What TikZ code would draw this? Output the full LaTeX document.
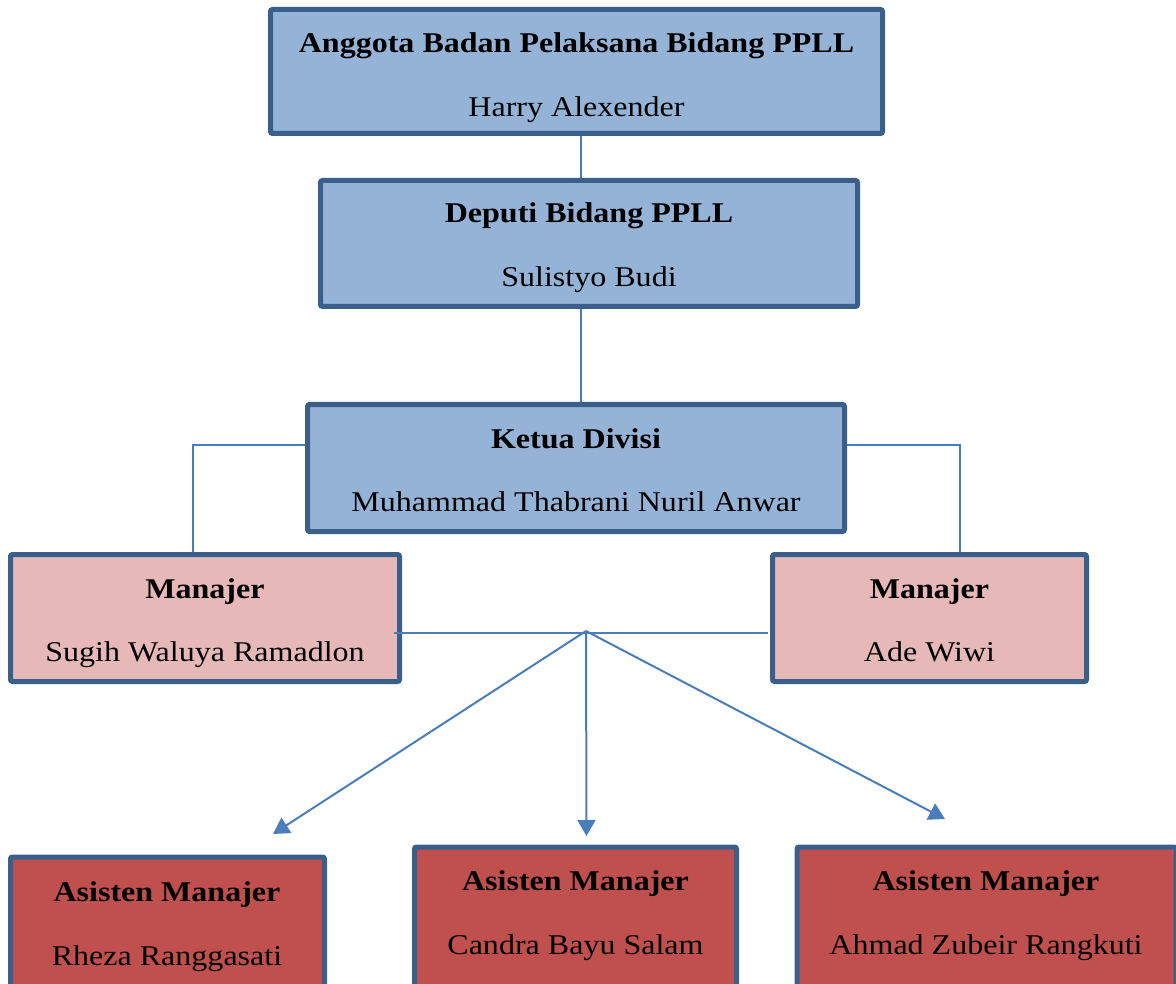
\documentclass[tikz,border=0pt]{standalone}
\usepackage{fontspec}
\setmainfont{Liberation Serif}[FakeStretch=1.12]
\usetikzlibrary{arrows.meta,calc}
\definecolor{boxblue}{HTML}{95B3D7}
\definecolor{boxpink}{HTML}{E6B9B8}
\definecolor{boxred}{HTML}{C0504D}
\definecolor{borderc}{HTML}{3A5F8B}
\definecolor{linec}{HTML}{4A7EBB}
\begin{document}
\begin{tikzpicture}[x=1pt,y=-1pt,
  orgbox/.style={draw=borderc, line width=5pt, rounded corners=2pt, inner sep=0pt},
  txt/.style={anchor=base, inner sep=0pt, font=\fontsize{28.6}{34}\selectfont},
  ttl/.style={anchor=base, inner sep=0pt, font=\fontsize{28.6}{34}\selectfont\bfseries},
  conn/.style={draw=linec, line width=2pt},
  arr/.style={draw=linec, line width=2pt, -{Triangle[width=18pt,length=16pt]}}]
\useasboundingbox (0,0) rectangle (1176,984);
\clip (0,0) rectangle (1176,984);
% boxes
\node[orgbox, fill=boxblue, minimum width=612pt, minimum height=124pt] (b1) at (576.5,71.5) {};
\node[orgbox, fill=boxblue, minimum width=537pt, minimum height=126pt] (b2) at (589,243.5) {};
\node[orgbox, fill=boxblue, minimum width=537pt, minimum height=127pt] (b3) at (576,468) {};
\node[orgbox, fill=boxpink, minimum width=389pt, minimum height=127pt] (mL) at (205,618) {};
\node[orgbox, fill=boxpink, minimum width=314pt, minimum height=127pt] (mR) at (929.5,618) {};
\node[orgbox, fill=boxred, minimum width=314pt, minimum height=140pt] (aL) at (167.5,927) {};
\node[orgbox, fill=boxred, minimum width=322pt, minimum height=150pt] (aM) at (575.5,922) {};
\node[orgbox, fill=boxred, minimum width=379pt, minimum height=150pt] (aR) at (986.5,922) {};
% texts
\node[ttl] (b1t) at (576.5,53) {Anggota Badan Pelaksana Bidang PPLL};
\node[txt] (b1n) at (576.5,117) {Harry Alexender};
\node[ttl] (b2t) at (589,223) {Deputi Bidang PPLL};
\node[txt] (b2n) at (589,287) {Sulistyo Budi};
\node[ttl] (b3t) at (576,448) {Ketua Divisi};
\node[txt] (b3n) at (576,511) {Muhammad Thabrani Nuril Anwar};
\node[ttl] (mLt) at (205,598) {Manajer};
\node[txt] (mLn) at (205,661) {Sugih Waluya Ramadlon};
\node[ttl] (mRt) at (929.5,598) {Manajer};
\node[txt] (mRn) at (929.5,661) {Ade Wiwi};
\node[ttl] (aLt) at (167,901) {Asisten Manajer};
\node[txt] (aLn) at (167,965) {Rheza Ranggasati};
\node[ttl] (aMt) at (575.5,890) {Asisten Manajer};
\node[txt] (aMn) at (575.5,954) {Candra Bayu Salam};
\node[ttl] (aRt) at (986,890) {Asisten Manajer};
\node[txt] (aRn) at (986,954) {Ahmad Zubeir Rangkuti};
% connectors
\draw[conn] ([xshift=4.5pt]b1.south) -- ([xshift=4.5pt]b1.south |- b2.north);
\draw[conn] ([xshift=-8pt]b2.south) -- ([xshift=-8pt]b2.south |- b3.north);
\draw[conn] ([yshift=23pt]b3.west) -| ([xshift=-12pt]mL.north);
\draw[conn] ([yshift=23pt]b3.east) -| ([xshift=30.5pt]mR.north);
\draw[conn] ([xshift=-8pt,yshift=-15pt]mL.east) -- ([xshift=-2pt,yshift=-15pt]mR.west);
\coordinate (apex) at (586,631);
\coordinate (tipL) at (273,834);
\coordinate (tipM) at (586.5,836);
\coordinate (tipR) at (945,819);
\draw[arr] (apex) -- (tipL);
\draw[arr] (apex) -- (tipM);
\draw[arr] (apex) -- (tipR);
\end{tikzpicture}
\end{document}
